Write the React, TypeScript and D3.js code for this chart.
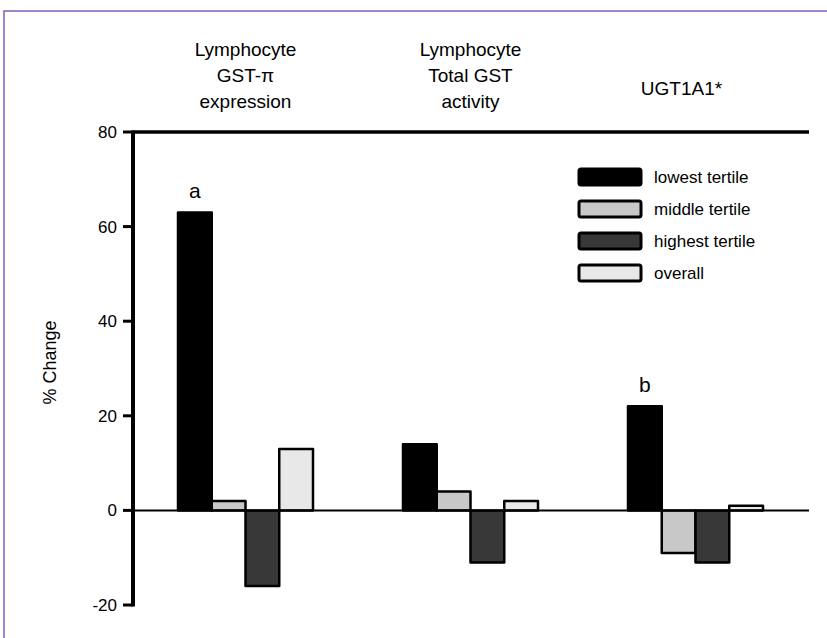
import { useMemo } from "react"
import * as d3 from "d3"

const categories = ["GST-pi expression", "Total GST activity", "UGT1A1"]
const categoryTitles = [
  ["Lymphocyte", "GST-\u03c0", "expression"],
  ["Lymphocyte", "Total GST", "activity"],
  ["UGT1A1*"],
]
const series = ["lowest tertile", "middle tertile", "highest tertile", "overall"]
const seriesFills = ["#000000", "#c8c8c8", "#383838", "#e8e8e8"]

const lowest = [63, 14, 22]
const middle = [2, 4, -9]
const highest = [-16, -11, -11]
const overall = [13, 2, 1]
const values = [lowest, middle, highest, overall]

const yTicks = [-20, 0, 20, 40, 60, 80]
const letters = ["a", "", "b"]

const font = "'Liberation Sans', Arial, sans-serif"

const App = () => {
  const { x0, x1, y } = useMemo(() => {
    const x0 = d3.scaleBand()
      .domain(categories)
      .range([133, 808])
      .paddingInner(0.4)
      .paddingOuter(0.2)
    const x1 = d3.scaleBand()
      .domain(series)
      .range([0, x0.bandwidth()])
    const y = d3.scaleLinear()
      .domain([-20, 80])
      .range([605, 132])
    return { x0, x1, y }
  }, [])

  return (
    <svg
      width={827}
      height={638}
      style={{ position: "fixed", left: 0, top: 0, background: "#fff" }}
      fontFamily={font}
    >
      <rect x={4} y={11} width={900} height={700} fill="none" stroke="#7f5fb8" strokeWidth={1.5} />

      {/* category titles */}
      {categories.map((c, i) => {
        const cx = x0(c)! + x0.bandwidth() / 2
        const lines = categoryTitles[i]
        return (
          <text key={c} x={cx} textAnchor="middle" fontSize={19} fill="#000">
            {lines.length === 1
              ? <tspan x={cx - 14} y={95}>{lines[0]}</tspan>
              : lines.map((l, j) => (
                <tspan key={j} x={cx} y={56 + j * 26}>{l}</tspan>
              ))}
          </text>
        )
      })}

      {/* bars */}
      {categories.map((c, i) => (
        <g key={c} transform={`translate(${x0(c)}, 0)`}>
          {series.map((s, k) => {
            const v = values[k][i]
            return (
              <rect
                key={s}
                x={x1(s)}
                y={y(Math.max(0, v))}
                width={x1.bandwidth()}
                height={Math.abs(y(v) - y(0))}
                fill={seriesFills[k]}
                stroke="#000"
                strokeWidth={2.5}
                strokeLinejoin="round"
              />
            )
          })}
          {letters[i] && (
            <text
              x={x1(series[0])! + x1.bandwidth() / 2}
              y={y(lowest[i]) - 14}
              textAnchor="middle"
              fontSize={21}
            >
              {letters[i]}
            </text>
          )}
        </g>
      ))}

      {/* zero line and top line */}
      <line x1={133} x2={809} y1={y(0)} y2={y(0)} stroke="#000" strokeWidth={2} />
      <line x1={133} x2={809} y1={y(80)} y2={y(80)} stroke="#000" strokeWidth={3.5} />

      {/* y axis */}
      <line x1={133} x2={133} y1={y(80) - 1.5} y2={y(-20) + 1.5} stroke="#000" strokeWidth={4} />
      {yTicks.map(t => (
        <g key={t} transform={`translate(133, ${y(t)})`}>
          <line x1={-10} x2={0} stroke="#000" strokeWidth={3} />
          <text x={-16} dy="0.35em" textAnchor="end" fontSize={17}>{t}</text>
        </g>
      ))}
      <text
        transform={`translate(56, ${(y(80) + y(-20)) / 2 - 6}) rotate(-90)`}
        textAnchor="middle"
        fontSize={18}
      >
        % Change
      </text>

      {/* legend */}
      {series.map((s, k) => (
        <g key={s} transform={`translate(579, ${169 + k * 32})`}>
          <rect
            width={62}
            height={16}
            rx={2}
            fill={seriesFills[k]}
            stroke="#000"
            strokeWidth={3}
          />
          <text x={75} y={14} fontSize={17}>{s}</text>
        </g>
      ))}
    </svg>
  )
}

export default App
